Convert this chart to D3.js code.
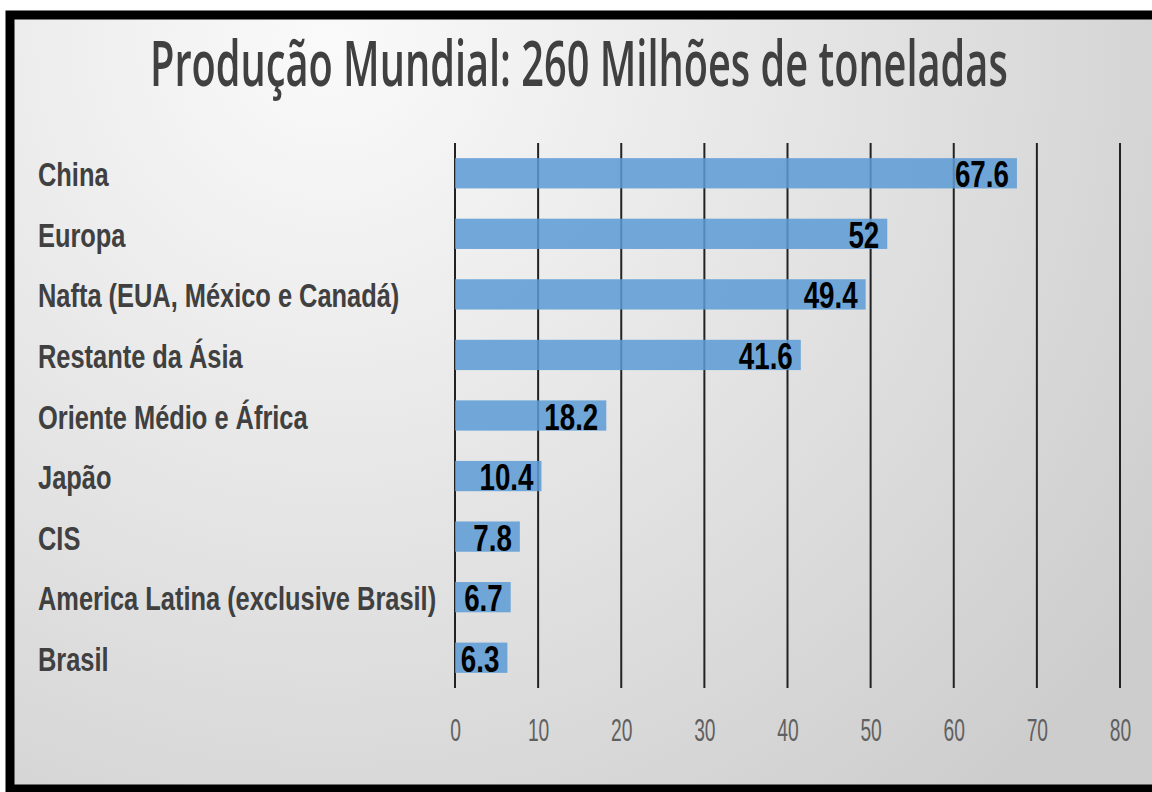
<!DOCTYPE html>
<html>
<head>
<meta charset="utf-8">
<script src="https://cdn.jsdelivr.net/npm/d3@7"></script>
<style>
  body { margin: 0; background: #fff; }
</style>
</head>
<body>
<div id="chart"></div>
<script>
var w = 1152; // page width
var h = 792;  // page height

// Data
var categories = ["China", "Europa", "Nafta (EUA, México e Canadá)", "Restante da Ásia",
    "Oriente Médio e África", "Japão", "CIS", "America Latina (exclusive Brasil)", "Brasil"];
var values = [67.6, 52, 49.4, 41.6, 18.2, 10.4, 7.8, 6.7, 6.3];
var ticks = [0, 10, 20, 30, 40, 50, 60, 70, 80];
var title = "Produção Mundial: 260 Milhões de toneladas";

var data = categories.map(function(c, i) { return { name: c, value: values[i] }; });

var narrow = "Liberation Sans, Arial, sans-serif";

var svg = d3.select("#chart").append("svg")
    .attr("width", w)
    .attr("height", h);

// background gradient
var defs = svg.append("defs");
var grad = defs.append("radialGradient")
    .attr("id", "bg")
    .attr("gradientUnits", "userSpaceOnUse")
    .attr("cx", 330).attr("cy", 40)
    .attr("r", 1000);
grad.append("stop").attr("offset", "0%").attr("stop-color", "#fafafa");
grad.append("stop").attr("offset", "50%").attr("stop-color", "#e4e4e4");
grad.append("stop").attr("offset", "100%").attr("stop-color", "#cdcdcd");

svg.append("rect")
    .attr("x", 10).attr("y", 15)
    .attr("width", w + 20).attr("height", 774)
    .attr("fill", "url(#bg)")
    .attr("stroke", "#000")
    .attr("stroke-width", 9);

// title, squeezed to the width seen in the picture
var titleText = svg.append("text")
    .attr("font-family", "Open Sans, sans-serif")
    .attr("font-weight", 600)
    .attr("font-size", 64)
    .attr("fill", "#404040")
    .text(title);
var tw = titleText.node().getComputedTextLength();
titleText.attr("transform", "translate(150,86) scale(" + (858 / tw) + ",1)");

var xScale = d3.scaleLinear()
    .domain([0, 80])
    .range([455, 1120]);

var yScale = d3.scaleBand()
    .domain(categories)
    .range([143, 688])
    .paddingInner(0.5)
    .paddingOuter(0.25);

// gridlines
svg.append("g")
    .selectAll("line")
    .data(ticks)
    .enter()
    .append("line")
    .attr("x1", function(d) { return xScale(d); })
    .attr("x2", function(d) { return xScale(d); })
    .attr("y1", 143)
    .attr("y2", 688)
    .attr("stroke", "#222")
    .attr("stroke-width", 2);

// bars
svg.append("g")
    .selectAll("rect")
    .data(data)
    .enter()
    .append("rect")
    .attr("x", xScale(0))
    .attr("y", function(d) { return yScale(d.name); })
    .attr("width", function(d) { return xScale(d.value) - xScale(0); })
    .attr("height", yScale.bandwidth())
    .attr("fill", "#5b9bd5")
    .attr("fill-opacity", 0.85);

// value labels
svg.append("g")
    .selectAll("text")
    .data(data)
    .enter()
    .append("text")
    .attr("transform", function(d) {
        return "translate(" + (xScale(d.value) - 8) + "," +
            (yScale(d.name) + yScale.bandwidth() / 2 + 14) + ") scale(0.75,1)";
    })
    .attr("text-anchor", "end")
    .attr("font-family", narrow)
    .attr("font-weight", "bold")
    .attr("font-size", 37)
    .attr("fill", "#000")
    .text(function(d) { return d.value; });

// category labels
svg.append("g")
    .selectAll("text")
    .data(data)
    .enter()
    .append("text")
    .attr("transform", function(d) {
        return "translate(38," + (yScale(d.name) + yScale.bandwidth() / 2 + 13) + ") scale(0.77,1)";
    })
    .attr("font-family", narrow)
    .attr("font-weight", "bold")
    .attr("font-size", 33)
    .attr("fill", "#404040")
    .text(function(d) { return d.name; });

// x axis labels
var xAxis = svg.append("g")
    .attr("transform", "translate(0,741)")
    .call(d3.axisBottom(xScale).tickValues(ticks).tickSize(0).tickPadding(0));
xAxis.select(".domain").remove();
xAxis.selectAll("text")
    .attr("font-family", narrow)
    .attr("font-size", 31)
    .attr("fill", "#606060")
    .attr("dy", 0)
    .attr("transform", "scale(0.62,1)");
</script>
</body>
</html>
